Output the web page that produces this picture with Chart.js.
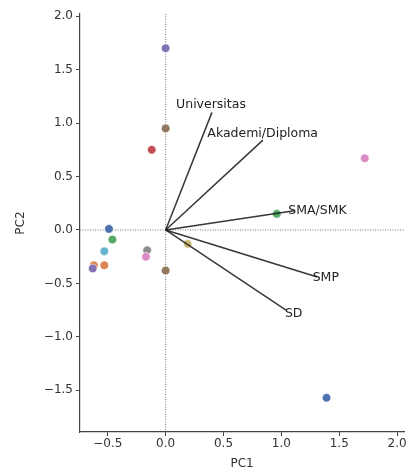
<!DOCTYPE html>
<html>
<head>
<meta charset="utf-8">
<script src="https://cdn.jsdelivr.net/npm/chart.js@4"></script>
<style>
  html, body { margin: 0; padding: 0; background: #fff; }
  #wrap { width: 409px; height: 471px; }
</style>
</head>
<body>
<div id="wrap"><canvas id="biplot"></canvas></div>
<script>
// scores (PC1, PC2)
const pc1 = [0.00, 0.00, -0.12, 1.72, 0.96, -0.49, -0.46, -0.53, -0.16, -0.17, -0.62, -0.63, -0.53, 0.00, 0.19, 1.39];
const pc2 = [1.70, 0.95, 0.75, 0.67, 0.15, 0.01, -0.09, -0.20, -0.19, -0.25, -0.33, -0.36, -0.33, -0.38, -0.13, -1.57];
const pointColors = ['#8172b3', '#937860', '#c44e52', '#da8bc3', '#55a868', '#4c72b0', '#55a868', '#64b5cd',
                     '#8c8c8c', '#da8bc3', '#dd8452', '#8172b3', '#dd8452', '#937860', '#ccb974', '#4c72b0'];

// loadings
const varNames = ['Universitas', 'Akademi/Diploma', 'SMA/SMK', 'SMP', 'SD'];
const loadX = [0.40, 0.84, 1.11, 1.31, 1.04];
const loadY = [1.10, 0.84, 0.18, -0.44, -0.75];
const labelX = [0.09, 0.36, 1.06, 1.27, 1.03];
const labelY = [1.17, 0.90, 0.18, -0.45, -0.78];

const xTicks = [-0.5, 0.0, 0.5, 1.0, 1.5, 2.0];
const yTicks = [-1.5, -1.0, -0.5, 0.0, 0.5, 1.0, 1.5, 2.0];

function fmt(v) {
    const s = Math.abs(v).toFixed(1);
    return v < 0 ? '\u2212' + s : s;
}

var datasets = [{
    label: 'scores',
    data: pc1.map((x, i) => ({ x: x, y: pc2[i] })),
    backgroundColor: pointColors,
    borderColor: '#ffffff',
    borderWidth: 0.6,
    pointRadius: 4.3,
    order: 2
}];
varNames.forEach((name, i) => {
    datasets.push({
        label: name,
        type: 'line',
        data: [{ x: 0, y: 0 }, { x: loadX[i], y: loadY[i] }],
        borderColor: 'rgba(20,20,20,0.85)',
        borderWidth: 1.5,
        pointRadius: 0,
        fill: false,
        order: 1
    });
});

// dotted zero lines + loading labels
const extras = {
    id: 'extras',
    beforeDatasetsDraw(chart) {
        const c = chart.ctx, a = chart.chartArea;
        const x0 = chart.scales.x.getPixelForValue(0);
        const y0 = chart.scales.y.getPixelForValue(0);
        c.save();
        c.strokeStyle = '#555';
        c.lineWidth = 0.8;
        c.setLineDash([1, 1.5]);
        c.beginPath();
        c.moveTo(x0, a.top); c.lineTo(x0, a.bottom);
        c.moveTo(a.left, y0); c.lineTo(a.right, y0);
        c.stroke();
        c.restore();
    },
    afterDatasetsDraw(chart) {
        const c = chart.ctx;
        c.save();
        c.font = '12.5px "DejaVu Sans"';
        c.fillStyle = '#222';
        c.textAlign = 'left';
        c.textBaseline = 'middle';
        varNames.forEach((name, i) => {
            c.fillText(name, chart.scales.x.getPixelForValue(labelX[i]), chart.scales.y.getPixelForValue(labelY[i]));
        });
        c.restore();
    }
};

new Chart(document.getElementById('biplot').getContext('2d'), {
    type: 'scatter',
    data: { datasets: datasets },
    plugins: [extras],
    options: {
        responsive: true,
        maintainAspectRatio: false,
        animation: false,
        layout: { padding: { top: 14, right: 4, left: 0, bottom: 0 } },
        plugins: { legend: { display: false }, tooltip: { enabled: false } },
        scales: {
            x: {
                type: 'linear',
                min: -0.74,
                max: 2.06,
                afterBuildTicks: (s) => { s.ticks = xTicks.map(v => ({ value: v })); },
                afterFit: (s) => { s.height = 39; },
                ticks: { callback: (v) => fmt(v), color: '#333', font: { family: 'DejaVu Sans', size: 12 }, padding: 1, maxRotation: 0 },
                grid: { drawOnChartArea: false, tickLength: 4, color: '#444' },
                border: { display: true, color: '#444', width: 1.2 },
                title: { display: true, text: 'PC1', color: '#333', font: { family: 'DejaVu Sans', size: 12 }, padding: { top: 0, bottom: 0 } }
            },
            y: {
                type: 'linear',
                min: -1.89,
                max: 2.02,
                afterBuildTicks: (s) => { s.ticks = yTicks.map(v => ({ value: v })); },
                afterFit: (s) => { s.width = 80; },
                ticks: { callback: (v) => fmt(v), color: '#333', font: { family: 'DejaVu Sans', size: 12 }, padding: 3 },
                grid: { drawOnChartArea: false, tickLength: 4, color: '#444' },
                border: { display: true, color: '#444', width: 1.2 },
                title: { display: true, text: 'PC2', color: '#333', font: { family: 'DejaVu Sans', size: 12 }, padding: { top: 14, bottom: 4 } }
            }
        }
    }
});
</script>
</body>
</html>
